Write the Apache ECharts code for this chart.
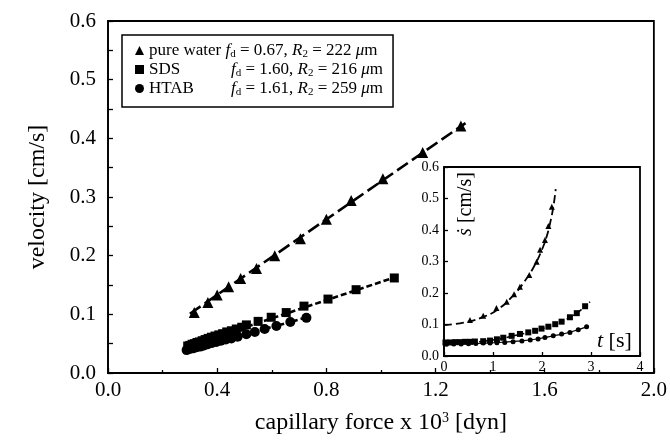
<!DOCTYPE html>
<html>
<head>
<meta charset="utf-8">
<script src="https://cdn.jsdelivr.net/npm/echarts@6/dist/echarts.min.js"></script>
<style>
  html, body { margin: 0; padding: 0; background: #fff; }
  #chart { width: 670px; height: 440px; }
</style>
</head>
<body>
<div id="chart"></div>
<script>
// main plot: velocity [cm/s] vs capillary force x 10^3 [dyn]
const waterPoints = [
  [0.316, 0.103], [0.366, 0.120], [0.400, 0.133], [0.442, 0.147], [0.486, 0.161],
  [0.544, 0.178], [0.611, 0.200], [0.705, 0.229], [0.800, 0.262], [0.891, 0.294],
  [1.007, 0.331], [1.153, 0.376], [1.293, 0.421]
];
const sdsPoints = [
  [0.292, 0.046], [0.300, 0.047], [0.308, 0.049], [0.317, 0.050], [0.326, 0.052],
  [0.335, 0.053], [0.345, 0.055], [0.356, 0.057], [0.367, 0.059], [0.379, 0.061],
  [0.392, 0.063], [0.406, 0.065], [0.420, 0.067], [0.435, 0.070], [0.452, 0.072],
  [0.470, 0.075], [0.490, 0.078], [0.507, 0.082], [0.550, 0.088], [0.598, 0.095],
  [0.653, 0.103], [0.718, 0.114], [0.806, 0.126], [0.909, 0.142], [1.049, 0.162]
];
const htabPoints = [
  [0.288, 0.039], [0.300, 0.041], [0.312, 0.042], [0.325, 0.044], [0.338, 0.045],
  [0.352, 0.047], [0.366, 0.049], [0.381, 0.051], [0.397, 0.053], [0.414, 0.055],
  [0.432, 0.057], [0.452, 0.059], [0.475, 0.062], [0.507, 0.066], [0.538, 0.070],
  [0.574, 0.075], [0.617, 0.080], [0.668, 0.087], [0.727, 0.094]
];
const waterFit = [[0.30, 0.101], [1.31, 0.426]];
const sdsFit = [[0.29, 0.045], [1.05, 0.163]];
const htabFit = [[0.285, 0.038], [0.73, 0.095]];

// inset: s-dot [cm/s] vs t [s]
const waterInset = [
  [0.53, 0.114], [0.80, 0.128], [1.07, 0.152], [1.28, 0.172], [1.43, 0.196],
  [1.55, 0.220], [1.74, 0.257], [1.89, 0.299], [1.96, 0.337], [2.06, 0.368],
  [2.13, 0.413], [2.20, 0.474]
];
const sdsInset = [
  [0.03, 0.043], [0.13, 0.043], [0.23, 0.044], [0.33, 0.044], [0.43, 0.045],
  [0.53, 0.045], [0.63, 0.046], [0.80, 0.047], [0.94, 0.049], [1.08, 0.053],
  [1.21, 0.058], [1.38, 0.064], [1.55, 0.070], [1.72, 0.075], [1.86, 0.080],
  [1.99, 0.087], [2.13, 0.093], [2.27, 0.101], [2.40, 0.109], [2.57, 0.123],
  [2.71, 0.136], [2.88, 0.158]
];
const htabInset = [
  [0.05, 0.037], [0.20, 0.038], [0.35, 0.038], [0.50, 0.039], [0.65, 0.040],
  [0.80, 0.041], [0.94, 0.041], [1.08, 0.042], [1.24, 0.043], [1.41, 0.045],
  [1.59, 0.048], [1.76, 0.051], [1.92, 0.054], [2.06, 0.059], [2.23, 0.064],
  [2.40, 0.070], [2.57, 0.075], [2.74, 0.083], [2.91, 0.093]
];
const waterInsetFit = [
  [0, 0.098], [0.4, 0.106], [0.8, 0.124], [1.1, 0.148], [1.4, 0.190], [1.65, 0.238],
  [1.85, 0.288], [2.0, 0.338], [2.1, 0.382], [2.18, 0.432], [2.24, 0.482], [2.28, 0.53]
];
const sdsInsetFit = [
  [0, 0.043], [0.5, 0.044], [1.0, 0.051], [1.5, 0.067], [1.9, 0.082], [2.3, 0.103],
  [2.6, 0.125], [2.85, 0.153], [2.98, 0.172]
];
const htabInsetFit = [
  [0, 0.037], [0.5, 0.039], [1.0, 0.042], [1.5, 0.047], [1.9, 0.054], [2.3, 0.066],
  [2.6, 0.077], [2.95, 0.095]
];

const legendText = {
  "pure water": "{n|pure water }{i|f}{s|d}{n| = 0.67, }{i|R}{s|2}{n| = 222 }{i|μ}{n|m}",
  "SDS": "{w|SDS}{i|f}{s|d}{n| = 1.60, }{i|R}{s|2}{n| = 216 }{i|μ}{n|m}",
  "HTAB": "{w|HTAB}{i|f}{s|d}{n| = 1.61, }{i|R}{s|2}{n| = 259 }{i|μ}{n|m}"
};

const FONT = "Liberation Serif";
const chart = echarts.init(document.getElementById("chart"));

const axisCommon = (fontSize, tickLen) => ({
  axisLine: { lineStyle: { color: "#000", width: 1.5 } },
  axisTick: { inside: true, length: tickLen, lineStyle: { color: "#000", width: 1.3 } },
  splitLine: { show: false },
  axisLabel: { color: "#000", fontFamily: FONT, fontSize: fontSize, formatter: v => v.toFixed(1) }
});

const dot = { color: "#000", opacity: 1 };

const option = {
  backgroundColor: "#fff",
  animation: false,
  textStyle: { fontFamily: FONT },
  grid: [
    { left: 108, top: 21, width: 547, height: 354, show: true, borderColor: "#000", borderWidth: 1.8 },
    { left: 444, top: 167, width: 196, height: 189, show: true, borderColor: "#000", borderWidth: 1.8,
      backgroundColor: "#fff", z: 5 }
  ],
  legend: {
    left: 122, top: 35, orient: "vertical",
    itemWidth: 9, itemHeight: 9, itemGap: 0,
    padding: [6, 10, 9, 13],
    borderColor: "#000", borderWidth: 1.5, backgroundColor: "#fff",
    data: [
      { name: "pure water", icon: "triangle" },
      { name: "SDS", icon: "rect" },
      { name: "HTAB", icon: "circle" }
    ],
    formatter: name => legendText[name],
    textStyle: {
      color: "#000", fontFamily: FONT, fontSize: 17, lineHeight: 19,
      rich: {
        n: { fontFamily: FONT, fontSize: 17, color: "#000" },
        w: { fontFamily: FONT, fontSize: 17, color: "#000", width: 82 },
        i: { fontFamily: FONT, fontSize: 17, fontStyle: "italic", color: "#000" },
        s: { fontFamily: FONT, fontSize: 11, color: "#000", lineHeight: 8, verticalAlign: "bottom" }
      }
    }
  },
  xAxis: [
    Object.assign(axisCommon(21, 5), {
      gridIndex: 0, type: "value", min: 0, max: 2, interval: 0.4,
      minorTick: { show: true, splitNumber: 2, length: 3, lineStyle: { color: "#000", width: 1.3 } },
      axisLabel: { color: "#000", fontFamily: FONT, fontSize: 21, margin: 7, formatter: v => v.toFixed(1) },
      name: "capillary force x 10{sup|3} [dyn]", nameLocation: "middle", nameGap: 38,
      nameTextStyle: {
        color: "#000", fontFamily: FONT, fontSize: 24,
        rich: { sup: { fontFamily: FONT, fontSize: 14, verticalAlign: "top", lineHeight: 12, color: "#000" } }
      }
    }),
    Object.assign(axisCommon(14, 4), {
      gridIndex: 1, type: "value", min: 0, max: 4, interval: 1, z: 6,
      axisLabel: { color: "#000", fontFamily: FONT, fontSize: 14, margin: 4, formatter: v => String(v) }
    })
  ],
  yAxis: [
    Object.assign(axisCommon(21, 5), {
      gridIndex: 0, type: "value", min: 0, max: 0.6, interval: 0.1,
      minorTick: { show: true, splitNumber: 2, length: 5, lineStyle: { color: "#000", width: 1.3 } },
      axisLabel: { color: "#000", fontFamily: FONT, fontSize: 21, margin: 12, formatter: v => v.toFixed(1) },
      name: "velocity [cm/s]", nameLocation: "middle", nameGap: 58, nameRotate: 90,
      nameTextStyle: { color: "#000", fontFamily: FONT, fontSize: 24 }
    }),
    Object.assign(axisCommon(14, 4), {
      gridIndex: 1, type: "value", min: 0, max: 0.6, interval: 0.1, z: 6,
      axisLabel: { color: "#000", fontFamily: FONT, fontSize: 14, margin: 5, formatter: v => v.toFixed(1) }
    })
  ],
  graphic: [
    {
      type: "text", left: 456, top: 172, rotation: Math.PI / 2, z: 20,
      style: {
        text: "{i|ṡ} [cm/s]", fill: "#000", font: "20px " + FONT,
        rich: { i: { fontFamily: FONT, fontSize: 20, fontStyle: "italic", fill: "#000" } }
      }
    },
    {
      type: "text", left: 597, top: 330, z: 20,
      style: {
        text: "{i|t} [s]", fill: "#000", font: "22px " + FONT,
        rich: { i: { fontFamily: FONT, fontSize: 22, fontStyle: "italic", fill: "#000" } }
      }
    }
  ],
  series: [
    { name: "pure water", type: "scatter", xAxisIndex: 0, yAxisIndex: 0, data: waterPoints,
      symbol: "triangle", symbolSize: 11, itemStyle: dot, z: 3 },
    { name: "SDS", type: "scatter", xAxisIndex: 0, yAxisIndex: 0, data: sdsPoints,
      symbol: "rect", symbolSize: 9, itemStyle: dot, z: 3 },
    { name: "HTAB", type: "scatter", xAxisIndex: 0, yAxisIndex: 0, data: htabPoints,
      symbol: "circle", symbolSize: 10, itemStyle: dot, z: 3 },
    { type: "line", xAxisIndex: 0, yAxisIndex: 0, data: waterFit, showSymbol: false, symbol: "none",
      lineStyle: { color: "#000", width: 2.6, type: [13, 5] }, z: 2 },
    { type: "line", xAxisIndex: 0, yAxisIndex: 0, data: sdsFit, showSymbol: false, symbol: "none",
      lineStyle: { color: "#000", width: 2.6, type: [6, 3] }, z: 2 },
    { type: "line", xAxisIndex: 0, yAxisIndex: 0, data: htabFit, showSymbol: false, symbol: "none",
      lineStyle: { color: "#000", width: 2.6, type: [4, 3] }, z: 2 },

    { type: "line", xAxisIndex: 1, yAxisIndex: 1, data: waterInsetFit, smooth: true, symbol: "none",
      lineStyle: { color: "#000", width: 1.8, type: [8, 4] }, z: 7 },
    { type: "line", xAxisIndex: 1, yAxisIndex: 1, data: sdsInsetFit, smooth: true, symbol: "none",
      lineStyle: { color: "#000", width: 1.6, type: [4, 3] }, z: 7 },
    { type: "line", xAxisIndex: 1, yAxisIndex: 1, data: htabInsetFit, smooth: true, symbol: "none",
      lineStyle: { color: "#000", width: 1.2 }, z: 7 },
    { type: "scatter", xAxisIndex: 1, yAxisIndex: 1, data: waterInset, symbol: "triangle", symbolSize: 6,
      itemStyle: dot, z: 8 },
    { type: "scatter", xAxisIndex: 1, yAxisIndex: 1, data: sdsInset, symbol: "rect", symbolSize: 6,
      itemStyle: dot, z: 8 },
    { type: "scatter", xAxisIndex: 1, yAxisIndex: 1, data: htabInset, symbol: "circle", symbolSize: 5,
      itemStyle: dot, z: 8 }
  ]
};

chart.setOption(option);
</script>
</body>
</html>
